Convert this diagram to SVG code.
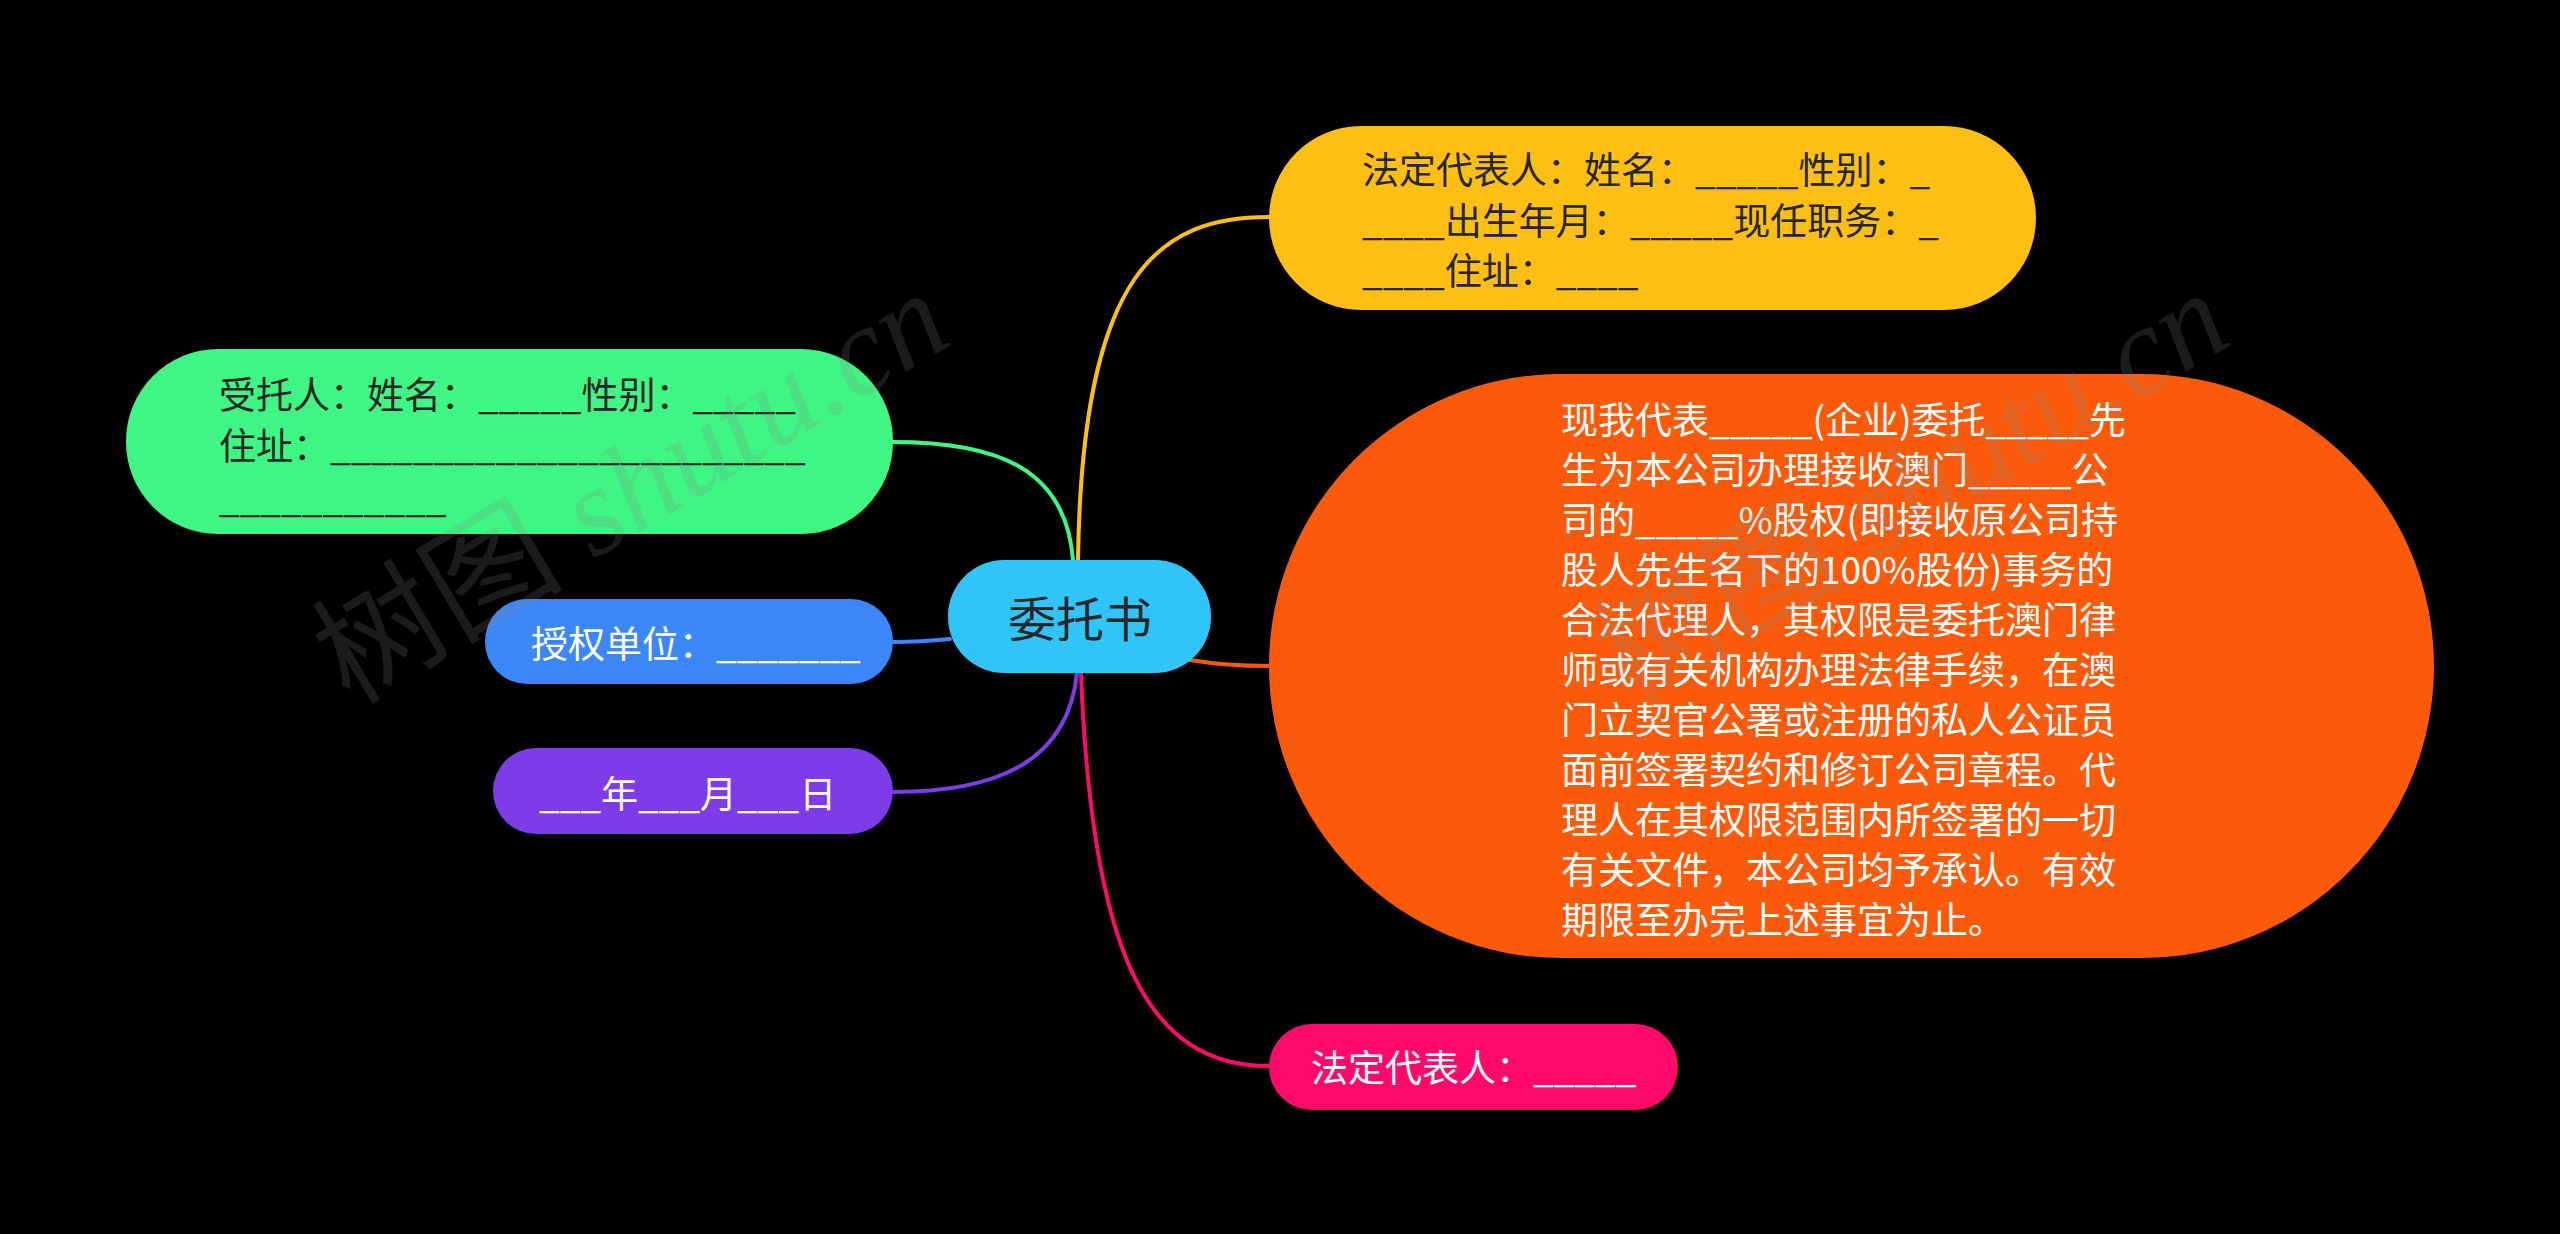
<svg xmlns="http://www.w3.org/2000/svg" width="2560" height="1234" viewBox="0 0 2560 1234">
<style>
.t{font-family:"Noto Sans CJK SC","Liberation Sans",sans-serif;font-size:37px;dominant-baseline:central}
.dk{fill:#262626}
.wh{fill:#ffffff}
.e{fill:none;stroke-width:4;stroke-linecap:round}
.wm{font-family:"Liberation Serif","Noto Sans CJK SC",serif;font-size:126px;fill:#888888;fill-opacity:0.2}
</style>
<rect width="2560" height="1234" fill="#000"/>
<g id="connectors">
<path class="e" stroke="#FDBF14" d="M1078,560 C1082,270 1160,217 1269,217"/>
<path class="e" stroke="#3FF584" d="M1073,560 C1066,470 1000,442 893,442"/>
<path class="e" stroke="#3C87F8" d="M950,639 C930,641 910,642 893,642"/>
<path class="e" stroke="#7E3BE8" d="M1077,673 C1068,760 1000,792 893,792"/>
<path class="e" stroke="#FB5A0A" d="M1190,660 C1220,665 1240,666 1269,666"/>
<path class="e" stroke="#FF0A6A" d="M1081,673 C1092,960 1150,1066 1269,1066"/>
</g>
<g id="center">
<rect x="948" y="560" width="263" height="113" rx="56" fill="#30C5F7"/>
<text class="t dk" x="1080" y="616" text-anchor="middle" style="font-size:48px">委托书</text>
</g>
<g id="n-legal-info">
<rect x="1269" y="126" width="767" height="184" rx="92" fill="#FDBF14"/>
<text class="t dk" x="1362" y="168">法定代表人：姓名：_____性别：_</text>
<text class="t dk" x="1362" y="219">____出生年月：_____现任职务：_</text>
<text class="t dk" x="1362" y="269">____住址：____</text>
</g>
<g id="n-trustee">
<rect x="126" y="349" width="767" height="185" rx="92" fill="#3FF584"/>
<text class="t dk" x="219" y="393">受托人：姓名：_____性别：_____</text>
<text class="t dk" x="219" y="444">住址：_______________________</text>
<text class="t dk" x="219" y="496">___________</text>
</g>
<g id="n-unit">
<rect x="485" y="599" width="408" height="85" rx="42" fill="#3C87F8"/>
<text class="t wh" x="531" y="642">授权单位：_______</text>
</g>
<g id="n-date">
<rect x="493" y="748" width="400" height="86" rx="43" fill="#7E3BE8"/>
<text class="t wh" x="539" y="792">___年___月___日</text>
</g>
<g id="n-body">
<rect x="1269" y="374" width="1165" height="584" rx="292" fill="#FB5A0A"/>
<text class="t wh" x="1561" y="418">现我代表_____(企业)委托_____先</text>
<text class="t wh" x="1561" y="468">生为本公司办理接收澳门_____公</text>
<text class="t wh" x="1561" y="518">司的_____%股权(即接收原公司持</text>
<text class="t wh" x="1561" y="568">股人先生名下的100%股份)事务的</text>
<text class="t wh" x="1561" y="618">合法代理人，其权限是委托澳门律</text>
<text class="t wh" x="1561" y="668">师或有关机构办理法律手续，在澳</text>
<text class="t wh" x="1561" y="718">门立契官公署或注册的私人公证员</text>
<text class="t wh" x="1561" y="768">面前签署契约和修订公司章程。代</text>
<text class="t wh" x="1561" y="818">理人在其权限范围内所签署的一切</text>
<text class="t wh" x="1561" y="868">有关文件，本公司均予承认。有效</text>
<text class="t wh" x="1561" y="918">期限至办完上述事宜为止。</text>
</g>
<g id="n-legal-rep">
<rect x="1269" y="1024" width="409" height="86" rx="43" fill="#FF0A6A"/>
<text class="t wh" x="1311" y="1066">法定代表人：_____</text>
</g>
<g id="watermark">
<text class="wm" transform="translate(350,706) rotate(-31)">树图 <tspan font-style="italic">shutu.cn</tspan></text>
<text class="wm" transform="translate(1630,706) rotate(-31)">树图 <tspan font-style="italic">shutu.cn</tspan></text>
</g>
</svg>
